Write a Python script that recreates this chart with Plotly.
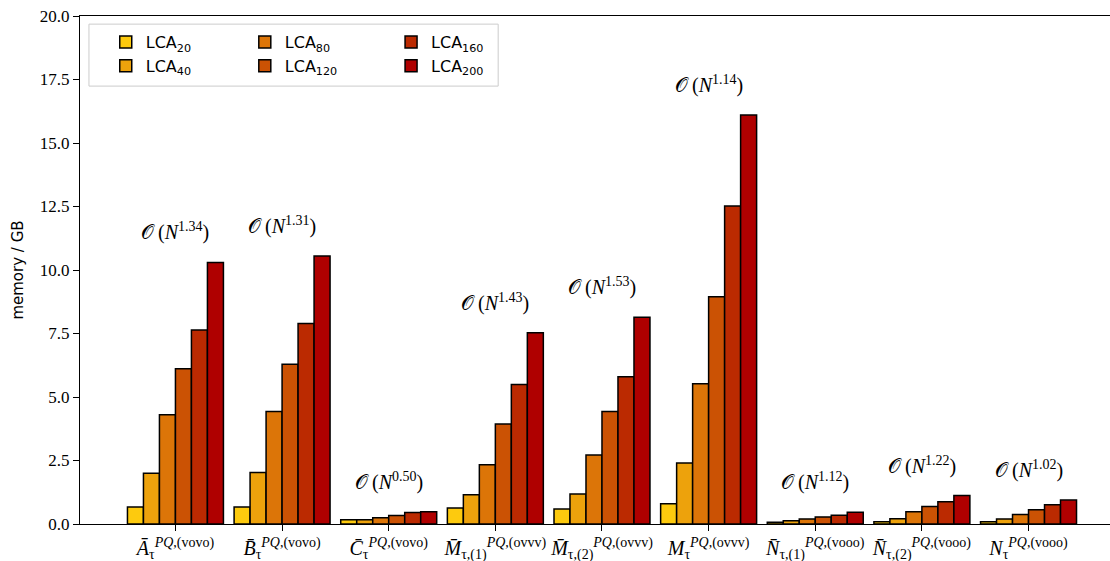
import plotly.graph_objects as go

groups = [
    "<i>Ā</i><sub>τ</sub><sup><i>PQ</i>,(vovo)</sup>",
    "<i>B̄</i><sub>τ</sub><sup><i>PQ</i>,(vovo)</sup>",
    "<i>C̄</i><sub>τ</sub><sup><i>PQ</i>,(vovo)</sup>",
    "<i>M̄</i><sub>τ,(1)</sub><sup><i>PQ</i>,(ovvv)</sup>",
    "<i>M̄</i><sub>τ,(2)</sub><sup><i>PQ</i>,(ovvv)</sup>",
    "<i>M</i><sub>τ</sub><sup><i>PQ</i>,(ovvv)</sup>",
    "<i>N̄</i><sub>τ,(1)</sub><sup><i>PQ</i>,(vooo)</sup>",
    "<i>N̄</i><sub>τ,(2)</sub><sup><i>PQ</i>,(vooo)</sup>",
    "<i>N</i><sub>τ</sub><sup><i>PQ</i>,(vooo)</sup>",
]
series_names = ["20", "40", "80", "120", "160", "200"]

lca20 = [0.67, 0.67, 0.17, 0.63, 0.59, 0.80, 0.07, 0.09, 0.09]
lca40 = [2.00, 2.03, 0.17, 1.15, 1.18, 2.40, 0.13, 0.21, 0.20]
lca80 = [4.30, 4.43, 0.25, 2.33, 2.72, 5.52, 0.20, 0.48, 0.37]
lca120 = [6.11, 6.29, 0.33, 3.94, 4.43, 8.95, 0.28, 0.69, 0.56]
lca160 = [7.64, 7.89, 0.45, 5.49, 5.80, 12.52, 0.34, 0.88, 0.76]
lca200 = [10.30, 10.55, 0.48, 7.53, 8.14, 16.10, 0.46, 1.12, 0.94]
exponents = ["1.34", "1.31", "0.50", "1.43", "1.53", "1.14", "1.12", "1.22", "1.02"]

series = [lca20, lca40, lca80, lca120, lca160, lca200]
colors = ["#FDCA0E", "#EDA20C", "#DC7508", "#CB5204", "#BB2A01", "#AF0000"]
legend_ids = ["legend", "legend", "legend2", "legend2", "legend3", "legend3"]

serif = "Liberation Serif"
sans = "DejaVu Sans"

x = list(range(len(groups)))
fig = go.Figure()
for name, vals, col, lg in zip(series_names, series, colors, legend_ids):
    fig.add_trace(go.Bar(
        x=x, y=vals, name=f"LCA<sub>{name}</sub>",
        marker=dict(color=col, line=dict(color="black", width=1.5)),
        legend=lg,
    ))

for i, e in enumerate(exponents):
    top = max(s[i] for s in series)
    fig.add_annotation(
        x=i, y=top + 1.2, xref="x", yref="y",
        text=f"𝒪\u2009(<i>N</i><sup>{e}</sup>)",
        showarrow=False, yanchor="middle",
        font=dict(family=serif, size=20, color="black"),
    )

leg_common = dict(
    orientation="v", yanchor="top", xanchor="left",
    bgcolor="rgba(0,0,0,0)", borderwidth=0,
    font=dict(family=sans, size=16, color="black"),
    tracegroupgap=0,
)
fig.update_layout(
    width=1110, height=561,
    margin=dict(l=80, r=0, t=16, b=37),
    paper_bgcolor="white", plot_bgcolor="white",
    barmode="group", bargap=0.1, bargroupgap=0,
    showlegend=True,
    legend=dict(x=0.025, y=0.982, **leg_common),
    legend2=dict(x=0.160, y=0.982, **leg_common),
    legend3=dict(x=0.302, y=0.982, **leg_common),
    shapes=[dict(
        type="rect", xref="paper", yref="paper",
        x0=0.0087, x1=0.406, y0=0.862, y1=0.984,
        line=dict(color="#cccccc", width=1),
        fillcolor="rgba(255,255,255,0.8)", layer="above",
    )],
)
fig.update_xaxes(
    range=[-0.895, 8.764], automargin=False,
    tickmode="array", tickvals=x, ticktext=groups,
    ticks="outside", ticklen=6, tickcolor="black", tickwidth=1.2,
    showline=True, linecolor="black", linewidth=1.2, mirror=True,
    showgrid=False, zeroline=False,
    tickfont=dict(family=serif, size=20, color="black"),
)
fig.update_yaxes(
    range=[0, 20], tickmode="array",
    tickvals=[0, 2.5, 5, 7.5, 10, 12.5, 15, 17.5, 20],
    ticktext=["0.0", "2.5", "5.0", "7.5", "10.0", "12.5", "15.0", "17.5", "20.0"],
    ticks="outside", ticklen=6, tickcolor="black", tickwidth=1.2,
    showline=True, linecolor="black", linewidth=1.2, mirror=False,
    showgrid=False, zeroline=False,
    tickfont=dict(family=serif, size=17, color="black"),
    title=dict(text="memory / GB", font=dict(family=sans, size=15, color="black"), standoff=12),
)

fig.write_html("out.html")
